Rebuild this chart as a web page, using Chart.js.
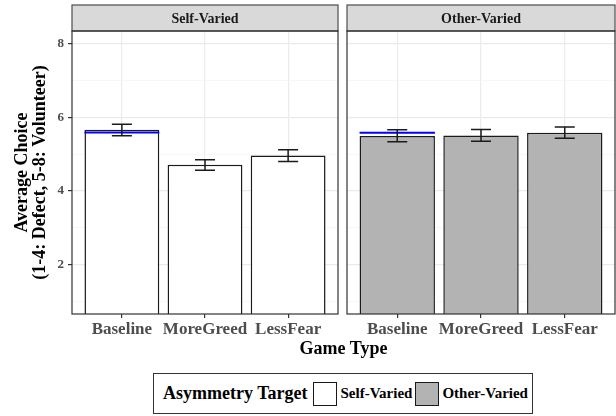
<!DOCTYPE html>
<html>
<head>
<meta charset="utf-8">
<script src="https://cdn.jsdelivr.net/npm/chart.js@4"></script>
<style>
  body { margin: 0; background: #fff; }
  #wrap { position: relative; width: 616px; height: 416px; font-family: 'Liberation Serif', serif; }
  canvas { position: absolute; top: 0; }
  #xtitle { position: absolute; left: 72px; width: 543px; top: 337px; line-height: 22px; text-align: center;
            font-weight: bold; font-size: 18px; color: #000; }
  #legend { position: absolute; left: 153px; top: 373px; width: 378px; height: 39px; border: 1px solid #333;
            display: flex; align-items: center; font-weight: bold; color: #000; }
  #legend .ttl { font-size: 18px; margin-left: 9px; margin-right: 6px; }
  #legend .key { width: 22px; height: 22px; border: 1.5px solid #1a1a1a; }
  #legend .lab { font-size: 15px; margin-left: 3px; margin-right: 3px; }
</style>
</head>
<body>
<div id="wrap">
  <canvas id="left-panel" width="340" height="340" style="left:0px"></canvas>
  <canvas id="right-panel" width="276" height="340" style="left:340px"></canvas>
  <div id="xtitle">Game Type</div>
  <div id="legend">
    <span class="ttl">Asymmetry Target</span>
    <span class="key" style="background:#ffffff"></span><span class="lab">Self-Varied</span>
    <span class="key" style="background:#b3b3b3"></span><span class="lab">Other-Varied</span>
  </div>
</div>
<script>
'use strict';

var gameTypes = ['Baseline', 'MoreGreed', 'LessFear'];
var yTicks = [1, 2, 3, 4, 5, 6, 7, 8];

// Self-Varied panel
var selfMeans = [5.66, 4.71, 4.96];
var selfLow = [5.50, 4.56, 4.80];
var selfHigh = [5.81, 4.85, 5.12];
var selfRef = [5.59, null, null];

// Other-Varied panel
var otherMeans = [5.49, 5.51, 5.58];
var otherLow = [5.34, 5.35, 5.43];
var otherHigh = [5.66, 5.67, 5.74];
var otherRef = [5.58, null, null];

var serif = "'Liberation Serif', 'Times New Roman', serif";

(function () {

  function panelPlugin(stripText, low, high, ref) {
    return {
      id: 'panelBits',
      afterDatasetsDraw: function (chart) {
        var ctx = chart.ctx;
        var y = chart.scales.y;
        var bars = chart.getDatasetMeta(0).data;
        ctx.save();
        bars.forEach(function (bar, i) {
          if (ref[i] != null) {
            ctx.strokeStyle = '#0000ff';
            ctx.lineWidth = 2;
            ctx.beginPath();
            ctx.moveTo(bar.x - bar.width / 2, y.getPixelForValue(ref[i]));
            ctx.lineTo(bar.x + bar.width / 2, y.getPixelForValue(ref[i]));
            ctx.stroke();
          }
        });
        ctx.strokeStyle = '#1a1a1a';
        ctx.lineWidth = 1.5;
        bars.forEach(function (bar, i) {
          var yl = y.getPixelForValue(low[i]);
          var yh = y.getPixelForValue(high[i]);
          var cap = 10;
          ctx.beginPath();
          ctx.moveTo(bar.x, yl);
          ctx.lineTo(bar.x, yh);
          ctx.moveTo(bar.x - cap, yl);
          ctx.lineTo(bar.x + cap, yl);
          ctx.moveTo(bar.x - cap, yh);
          ctx.lineTo(bar.x + cap, yh);
          ctx.stroke();
        });
        ctx.restore();
      },
      afterDraw: function (chart) {
        var ctx = chart.ctx;
        var a = chart.chartArea;
        ctx.save();
        // strip
        ctx.fillStyle = '#d9d9d9';
        ctx.fillRect(a.left, 5, a.right - a.left, a.top - 5);
        ctx.strokeStyle = '#4d4d4d';
        ctx.lineWidth = 1.2;
        ctx.strokeRect(a.left, 5, a.right - a.left, a.top - 5);
        ctx.fillStyle = '#1a1a1a';
        ctx.font = 'bold 14px ' + serif;
        ctx.textAlign = 'center';
        ctx.textBaseline = 'middle';
        ctx.fillText(stripText, (a.left + a.right) / 2, (5 + a.top) / 2 + 1);
        // panel border
        ctx.strokeStyle = '#333333';
        ctx.lineWidth = 1.2;
        ctx.strokeRect(a.left, a.top, a.right - a.left, a.bottom - a.top);
        ctx.restore();
      }
    };
  }

  function makePanel(canvasId, stripText, means, low, high, ref, fill, showYAxis) {
    var points = means.map(function (v, i) { return { x: i, y: v }; });
    return new Chart(document.getElementById(canvasId), {
      type: 'bar',
      data: {
        datasets: [{
          data: points,
          backgroundColor: fill,
          borderColor: '#1a1a1a',
          borderWidth: 1.5,
          barPercentage: 0.9,
          categoryPercentage: 1,
          clip: 0
        }]
      },
      options: {
        responsive: false,
        animation: false,
        layout: { padding: { top: 31, right: showYAxis ? 2 : 1, left: 0, bottom: 0 } },
        plugins: { legend: { display: false }, tooltip: { enabled: false } },
        scales: {
          x: {
            type: 'linear',
            min: -0.6,
            max: 2.6,
            offset: false,
            afterBuildTicks: function (scale) {
              scale.ticks = gameTypes.map(function (g, i) { return { value: i }; });
            },
            afterFit: function (scale) { scale.height = 26; },
            border: { display: false },
            grid: { offset: false, color: '#ebebeb', lineWidth: 1.2, tickColor: '#333333', tickLength: 4, tickWidth: 1.2 },
            ticks: {
              autoSkip: false, maxRotation: 0, padding: 1,
              color: '#4d4d4d',
              font: { family: serif, size: 17, weight: 'bold' },
              callback: function (value) { return gameTypes[value]; }
            }
          },
          y: {
            min: 0.65,
            max: 8.35,
            afterBuildTicks: function (scale) {
              scale.ticks = yTicks.map(function (v) { return { value: v }; });
            },
            afterFit: function (scale) { scale.width = showYAxis ? 72 : 7; },
            border: { display: false },
            grid: {
              drawTicks: showYAxis,
              tickLength: 4,
              tickWidth: 1.2,
              color: function (c) { return c.tick && c.tick.value % 2 === 0 ? '#ebebeb' : '#f3f3f3'; },
              lineWidth: function (c) { return c.tick && c.tick.value % 2 === 0 ? 1.2 : 0.7; },
              tickColor: function (c) { return c.tick && c.tick.value % 2 === 0 ? '#333333' : 'rgba(0,0,0,0)'; }
            },
            ticks: {
              display: showYAxis,
              padding: 4,
              color: '#4d4d4d',
              font: { family: serif, size: 13, weight: 'bold' },
              callback: function (value) { return value % 2 === 0 ? value : ''; }
            },
            title: {
              display: showYAxis,
              text: ['Average Choice', '(1-4: Defect, 5-8: Volunteer)'],
              color: '#000',
              font: { family: serif, size: 18, weight: 'bold', lineHeight: 1 },
              padding: { top: 13, bottom: 0 }
            }
          }
        }
      },
      plugins: [panelPlugin(stripText, low, high, ref)]
    });
  }

  makePanel('left-panel', 'Self-Varied', selfMeans, selfLow, selfHigh, selfRef, '#ffffff', true);
  makePanel('right-panel', 'Other-Varied', otherMeans, otherLow, otherHigh, otherRef, '#b3b3b3', false);

})();
</script>
</body>
</html>
